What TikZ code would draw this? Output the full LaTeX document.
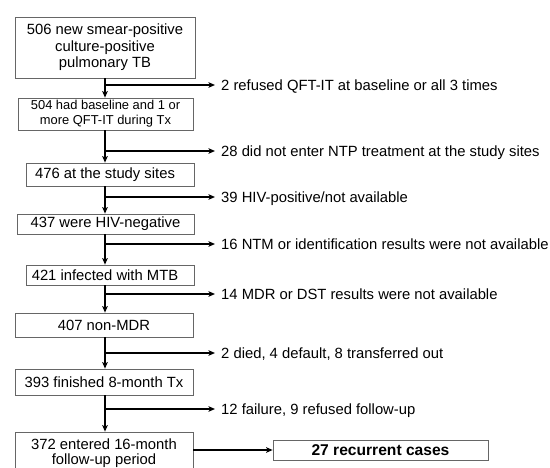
\documentclass[tikz,border=0pt]{standalone}
\usepackage{fontspec}
\setmainfont{Liberation Sans}
\usetikzlibrary{arrows.meta}
\begin{document}
\begin{tikzpicture}[x=1pt,y=-1pt,
  box/.style={draw=black!60, line width=0.7pt, inner sep=0pt, align=center,
    font=\fontsize{14.8}{16.5}\selectfont},
  lbl/.style={anchor=west, inner xsep=6pt, inner ysep=0pt, text height=10.6pt,
    text depth=0pt, font=\fontsize{14.8}{16.5}\selectfont},
  flow/.style={line width=1.5pt, -{Stealth[length=6.5pt,width=5.5pt,inset=1.5pt]}},
  side/.style={line width=1.3pt, -{Stealth[length=6.5pt,width=5.5pt,inset=1.5pt]}},
]
\useasboundingbox (0,0) rectangle (550,468);
\fill[white] (0,0) rectangle (550,468);

% main boxes
\node[box, minimum width=180pt, minimum height=61pt] (B1) at (105,47.5)
  {506 new smear-positive\\culture-positive\\pulmonary TB};
\node[box, minimum width=175pt, minimum height=32pt,
  font=\fontsize{12.9}{15}\selectfont] (B2) at (105.5,114)
  {504 had baseline and 1 or\\more QFT-IT during Tx};
\node[box, minimum width=168pt, minimum height=23pt] (B3) at (110,174.5)
  {\kern-10pt 476 at the study sites};
\node[box, minimum width=177pt, minimum height=20pt] (B4) at (105.5,224)
  {437 were HIV-negative};
\node[box, minimum width=168pt, minimum height=20pt] (B5) at (110,275)
  {\kern-10pt 421 infected with MTB};
\node[box, minimum width=178pt, minimum height=24pt] (B6) at (104,325)
  {407 non-MDR};
\node[box, minimum width=178pt, minimum height=42pt,
  font=\fontsize{14.8}{15}\selectfont] (B8) at (104,453)
  {372 entered 16-month\\follow-up period};
\node[box, minimum width=178pt, minimum height=26pt] (B7) at (104,382)
  {393 finished 8-month Tx};
\node[box, minimum width=215pt, minimum height=20pt,
  font=\fontsize{15.6}{18}\selectfont\bfseries] (B9) at (380.5,450)
  {27 recurrent cases};

% vertical flow
\draw[flow] (B1.south) -- (B2.north -| B1.south);
\draw[flow] (B2.south -| B1.south) -- (B3.north -| B1.south);
\draw[flow] (B3.south -| B1.south) -- (B4.north -| B1.south);
\draw[flow] (B4.south -| B1.south) -- (B5.north -| B1.south);
\draw[flow] (B5.south -| B1.south) -- (B6.north -| B1.south);
\draw[flow] (B6.south -| B1.south) -- (B7.north -| B1.south);
\draw[flow] (B7.south -| B1.south) -- (B8.north -| B1.south);
\draw[side] (B8.east |- B9.west) -- (B9.west);

% exclusions
\coordinate (J1) at (105,85);
\coordinate (J2) at (105,151);
\coordinate (J3) at (105,197);
\coordinate (J4) at (105,244);
\coordinate (J5) at (105,294);
\coordinate (J6) at (105,353);
\coordinate (J7) at (105,409);
\node[lbl] (L1) at (215,85) {2 refused QFT-IT at baseline or all 3 times};
\node[lbl] (L2) at (215,151) {28 did not enter NTP treatment at the study sites};
\node[lbl] (L3) at (215,197) {39 HIV-positive/not available};
\node[lbl] (L4) at (215,244) {16 NTM or identification results were not available};
\node[lbl] (L5) at (215,294) {14 MDR or DST results were not available};
\node[lbl] (L6) at (215,353) {2 died, 4 default, 8 transferred out};
\node[lbl] (L7) at (215,409) {12 failure, 9 refused follow-up};
\foreach \i in {1,...,7} {\draw[side] (J\i) -- (L\i.west);}
\end{tikzpicture}
\end{document}
